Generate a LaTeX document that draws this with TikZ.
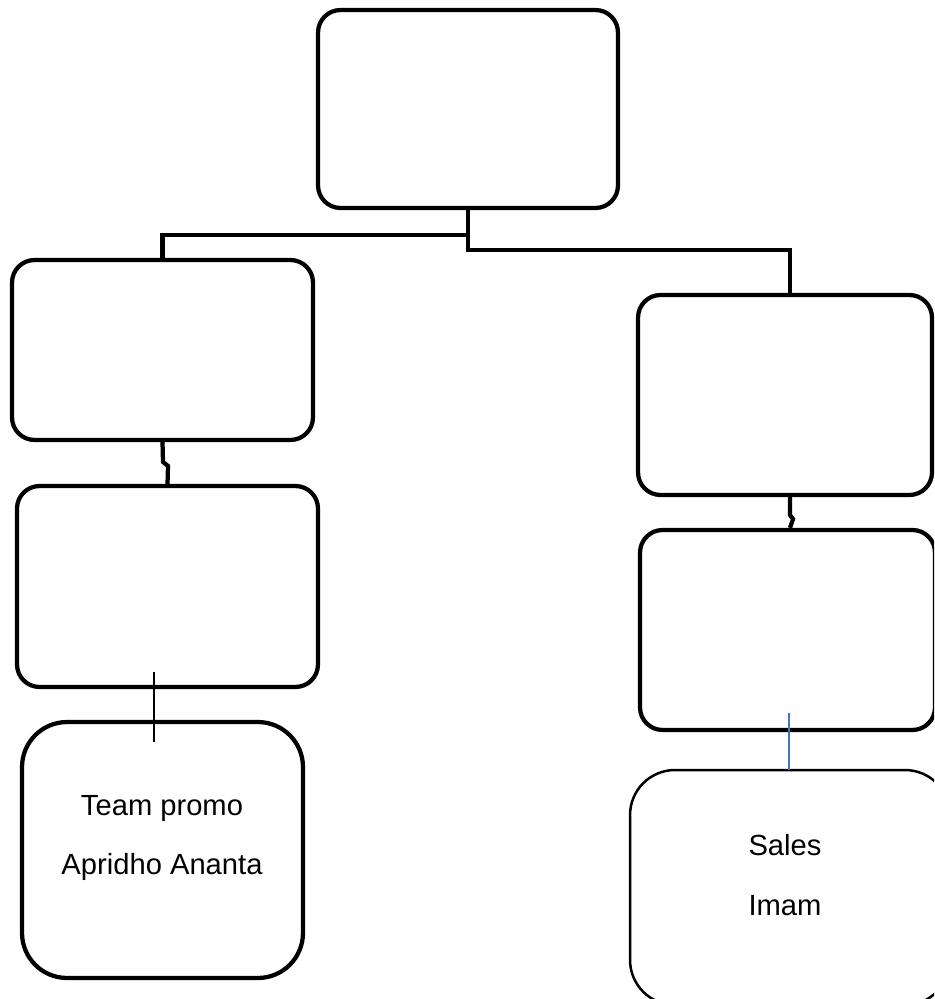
\documentclass[tikz,border=0pt]{standalone}
\usepackage{fontspec}
\setmainfont{Liberation Sans}
\begin{document}
\begin{tikzpicture}[x=0.02cm,y=-0.02cm,
  box/.style={draw=black,line width=0.085cm,rounded corners=0.45cm,inner sep=0pt,anchor=center},
  bigbox/.style={box,rounded corners=0.9cm},
  thinbox/.style={bigbox,line width=0.05cm},
  conn/.style={draw=black,line width=0.085cm},
  txt/.style={font=\fontsize{16.6}{34}\selectfont,align=center,inner sep=0pt}]
\useasboundingbox (0,0) rectangle (934,999);
\clip (0,0) rectangle (934,999);
% boxes
\node[box,minimum width=6cm,minimum height=3.96cm] (top) at (468,109) {};
\node[box,minimum width=6.02cm,minimum height=3.6cm] (l1) at (162.5,350) {};
\node[box,minimum width=6.02cm,minimum height=4.02cm] (l2) at (167.5,586.5) {};
\node[bigbox,minimum width=5.62cm,minimum height=5.12cm] (l3) at (162.5,850) {};
\node[box,minimum width=5.88cm,minimum height=4cm] (r1) at (785,395) {};
\node[box,minimum width=5.9cm,minimum height=4cm] (r2) at (787.5,630) {};
\node[thinbox,minimum width=6.4cm,minimum height=4.7cm] (r3) at (790,887.5) {};
% texts
\node[txt] (t1) at (162,838) {Team promo\\Apridho Ananta};
\node[txt] (t2) at (785,875) {Sales\\Imam};
% connectors
\coordinate (lb) at (162.5,235);
\coordinate (rb) at (790,250);
\draw[conn] (top.south) |- (lb) -- (l1.north);
\draw[conn] (top.south) |- (rb) -- (rb |- r1.north);
\coordinate (lj) at (163,462);
\draw[conn] (l1.south) -- (lj) -- ++(5,4) -- (l2.north);
\coordinate (rj1) at (790,495);
\coordinate (rj) at (790,515);
\draw[conn] (rj1) -- (rj) -- ++(3,4) -- (rj |- r2.north);
\coordinate (la) at (154,672);
\coordinate (lz) at (154,742);
\draw[black,line width=0.03cm] (la) -- (lz);
\coordinate (ra) at (789,713);
\coordinate (rz) at (789,770);
\draw[color={rgb,255:red,68;green,114;blue,196},line width=0.04cm] (ra) -- (rz);
\end{tikzpicture}
\end{document}
